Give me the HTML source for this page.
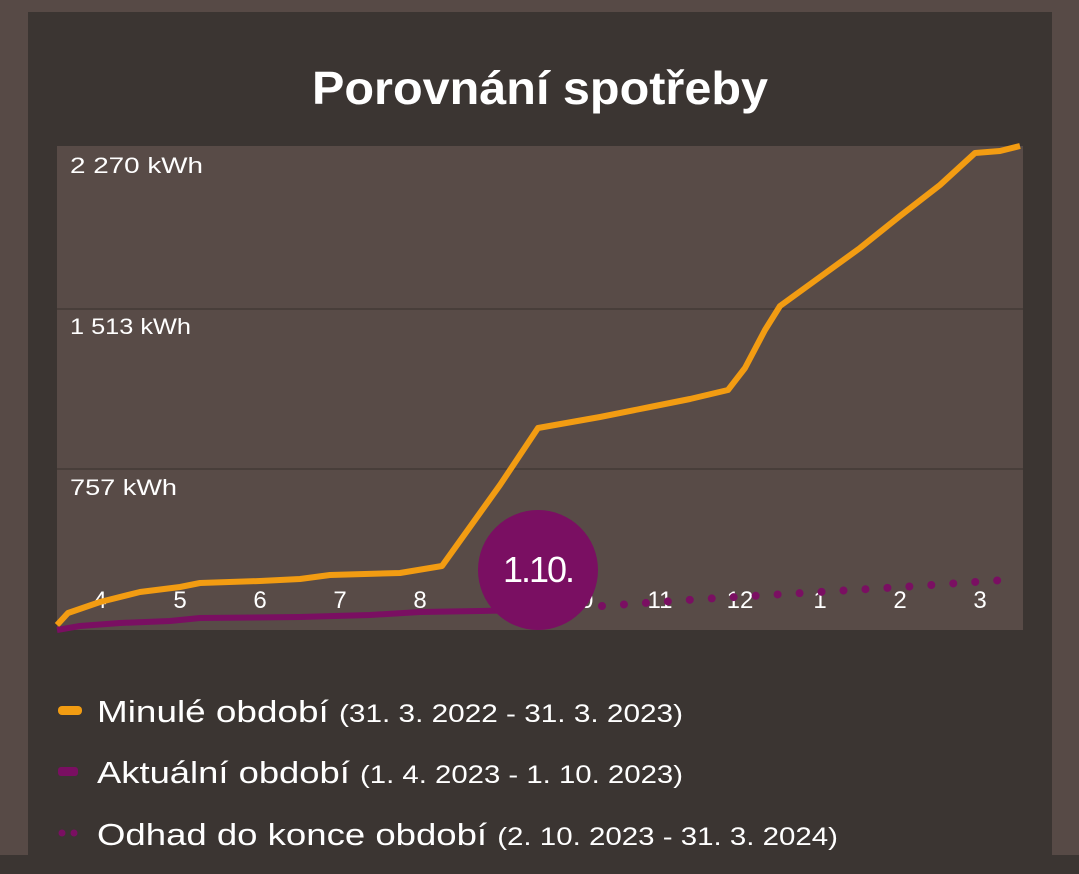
<!DOCTYPE html>
<html><head><meta charset="utf-8"><style>
html,body{margin:0;padding:0;width:1079px;height:874px;overflow:hidden;background:#574a46;font-family:"Liberation Sans",sans-serif;}
</style></head><body>
<svg width="1079" height="874" xmlns="http://www.w3.org/2000/svg" style="position:absolute;left:0;top:0">
<rect x="0" y="0" width="1079" height="874" fill="#574a46"/>
<rect x="28" y="12" width="1024" height="862" fill="#3b3532"/>
<rect x="0" y="855" width="1079" height="19" fill="#3b3532"/>
<text x="312" y="104" font-size="46" font-weight="bold" fill="#fff" textLength="456" lengthAdjust="spacingAndGlyphs">Porovnání spotřeby</text>
<rect x="57" y="146" width="966" height="484" fill="#584b47"/>
<line x1="57" y1="309" x2="1023" y2="309" stroke="#433a37" stroke-width="1.5"/>
<line x1="57" y1="469" x2="1023" y2="469" stroke="#433a37" stroke-width="1.5"/>
<g fill="#fff" font-size="22">
<text x="70" y="173" textLength="133" lengthAdjust="spacingAndGlyphs">2 270 kWh</text>
<text x="70" y="334" textLength="121" lengthAdjust="spacingAndGlyphs">1 513 kWh</text>
<text x="70" y="495" textLength="107" lengthAdjust="spacingAndGlyphs">757 kWh</text>
</g>
<g fill="#fff" font-size="24" text-anchor="middle">
<text x="100" y="608">4</text><text x="180" y="608">5</text><text x="260" y="608">6</text><text x="340" y="608">7</text><text x="420" y="608">8</text><text x="580" y="608">10</text><text x="660" y="608">11</text><text x="740" y="608">12</text><text x="820" y="608">1</text><text x="900" y="608">2</text><text x="980" y="608">3</text>
</g>
<polyline fill="none" stroke="#f29c12" stroke-width="6" stroke-linejoin="round" points="57,625 68,613 100,602 140,592 180,587 200,583 260,581 300,579 330,575 400,573 442,566 500,485 538,428 600,417 650,407 690,399 728,390 745,368 765,330 780,306 820,277 860,248 900,216 940,185 975,153 1000,151 1020,146"/>
<polyline fill="none" stroke="#7a0f62" stroke-width="6" stroke-linejoin="round" points="57,630 80,626 120,623 170,621 200,618 300,617 370,615 420,612 480,611 530,610"/>
<polyline fill="none" stroke="#7a0f62" stroke-width="8" stroke-linecap="round" stroke-dasharray="0 22" points="602,606 702,599 802,593 902,587 1004,580"/>
<circle cx="538" cy="570" r="60" fill="#7a0f62"/>
<text x="538" y="582" text-anchor="middle" fill="#fff" font-size="36" letter-spacing="-2">1.10.</text>
<rect x="58" y="706" width="24" height="9" rx="4" fill="#f29c12"/>
<rect x="58" y="767" width="20" height="9" rx="3" fill="#7a0f62"/>
<circle cx="62" cy="833" r="3.5" fill="#7a0f62"/><circle cx="74" cy="833" r="3.5" fill="#7a0f62"/>
<g fill="#fff">
<text x="97" y="722" font-size="31" textLength="586" lengthAdjust="spacingAndGlyphs">Minulé období <tspan font-size="25">(31. 3. 2022 - 31. 3. 2023)</tspan></text>
<text x="97" y="783" font-size="31" textLength="586" lengthAdjust="spacingAndGlyphs">Aktuální období <tspan font-size="25">(1. 4. 2023 - 1. 10. 2023)</tspan></text>
<text x="97" y="845" font-size="31" textLength="741" lengthAdjust="spacingAndGlyphs">Odhad do konce období <tspan font-size="25">(2. 10. 2023 - 31. 3. 2024)</tspan></text>
</g>
</svg>
</body></html>
